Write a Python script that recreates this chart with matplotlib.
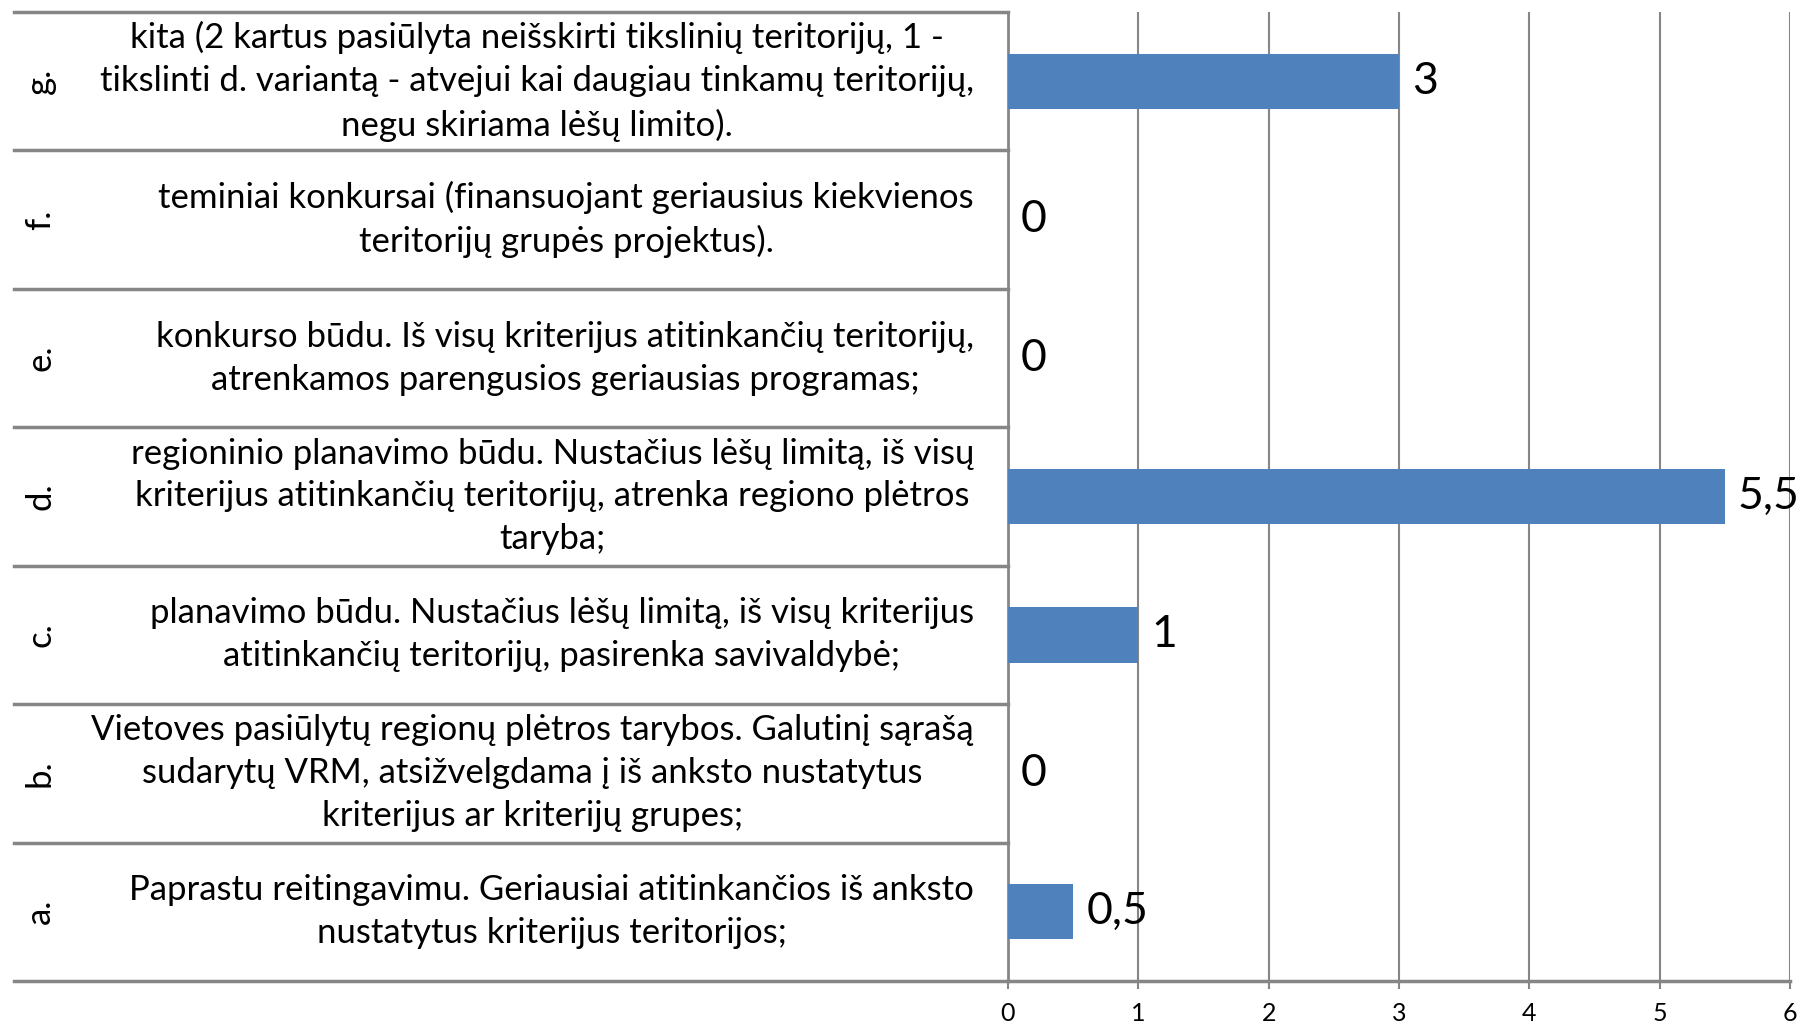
import numpy as np
import matplotlib.pyplot as plt
import matplotlib.transforms as mtransforms

plt.rcParams['font.family'] = ['Lato', 'DejaVu Sans']

letters = ['a.', 'b.', 'c.', 'd.', 'e.', 'f.', 'g.']
descriptions = [
    "Paprastu reitingavimu. Geriausiai atitinkančios iš anksto\nnustatytus kriterijus teritorijos;",
    "Vietoves pasiūlytų regionų plėtros tarybos. Galutinį sąrašą\nsudarytų VRM, atsižvelgdama į iš anksto nustatytus\nkriterijus ar kriterijų grupes;",
    "planavimo būdu. Nustačius lėšų limitą, iš visų kriterijus\natitinkančių teritorijų, pasirenka savivaldybė;",
    "regioninio planavimo būdu. Nustačius lėšų limitą, iš visų\nkriterijus atitinkančių teritorijų, atrenka regiono plėtros\ntaryba;",
    "konkurso būdu. Iš visų kriterijus atitinkančių teritorijų,\natrenkamos parengusios geriausias programas;",
    "teminiai konkursai (finansuojant geriausius kiekvienos\nteritorijų grupės projektus).",
    "kita (2 kartus pasiūlyta neišskirti tikslinių teritorijų, 1 -\ntikslinti d. variantą - atvejui kai daugiau tinkamų teritorijų,\nnegu skiriama lėšų limito).",
]
values = [0.5, 0, 1, 5.5, 0, 0, 3]
xticks = [0, 1, 2, 3, 4, 5, 6]

W, H = 1807, 1024
fig = plt.figure(figsize=(W / 100, H / 100), dpi=100)
left, right, top, bottom = 1008, 1790, 12, 981
ax = fig.add_axes([left / W, 1 - bottom / H, (right - left) / W, (bottom - top) / H])

grey = '#868686'
pos = np.arange(len(values)) + 0.5
ax.barh(pos, values, height=0.40, color='#4F81BD', zorder=3)

ax.set_xlim(0, 6)
ax.set_ylim(0, 7)
ax.set_xticks(xticks)
ax.set_xticklabels([str(t) for t in xticks], fontsize=18)
ax.set_yticks([])
ax.tick_params(axis='x', length=6, width=1.5, color=grey, pad=9)
ax.grid(axis='x', color=grey, linewidth=1.5, zorder=1)
for s in ['top', 'right']:
    ax.spines[s].set_visible(False)
ax.spines['left'].set_color(grey)
ax.spines['left'].set_linewidth(2)
ax.spines['bottom'].set_color(grey)
ax.spines['bottom'].set_linewidth(2.5)

for p, v in zip(pos, values):
    ax.text(v + 0.1, p, ('%g' % v).replace('.', ','), va='center', ha='left',
            fontsize=32)

# category boxes on the left
trans = mtransforms.blended_transform_factory(fig.transFigure, ax.transData)
x0 = 14 / W
for k in range(len(values) + 1):
    ax.plot([x0, left / W], [k, k], color=grey, linewidth=2.5, transform=trans,
            clip_on=False, zorder=4)
for p, let, txt in zip(pos, letters, descriptions):
    ax.text(40 / W, p, let, rotation=90, ha='center', va='center',
            fontsize=25, transform=trans)
    ax.text(974 / W, p, txt, ha='right', va='center', multialignment='center',
            fontsize=25, linespacing=1.42, transform=trans)

fig.savefig('out.png', dpi=100)
